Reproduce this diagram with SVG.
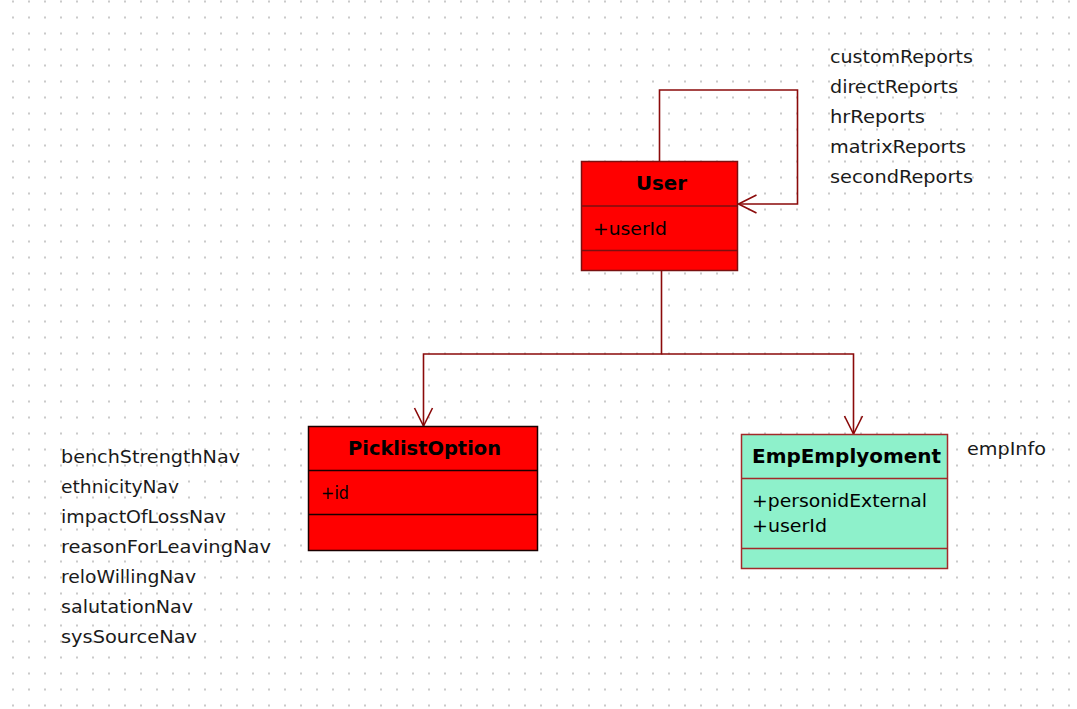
<svg xmlns="http://www.w3.org/2000/svg" width="1077" height="709" viewBox="0 0 1077 709">
<style>
.lbl{font-family:"DejaVu Sans Condensed","DejaVu Sans",sans-serif;font-size:18px;fill:#1a1a1a}
.ttl{font-family:"DejaVu Sans Condensed","DejaVu Sans",sans-serif;font-size:19px;font-weight:bold;fill:#000}
.att{font-family:"DejaVu Sans Condensed","DejaVu Sans",sans-serif;font-size:18px;fill:#000}
.con{fill:none;stroke:#8b0a0a;stroke-width:1.6}
</style>
<defs>
<pattern id="grid" x="0" y="0" width="16" height="16" patternUnits="userSpaceOnUse">
<rect x="12" y="0.5" width="2" height="2" fill="#cacaca"/>
</pattern>
<marker id="open" markerUnits="userSpaceOnUse" markerWidth="22" markerHeight="22" refX="18" refY="9" orient="auto" overflow="visible">
<path d="M0,0 L18,9 L0,18" fill="none" stroke="#8b0a0a" stroke-width="1.6"/>
</marker>
</defs>
<rect width="1077" height="709" fill="#ffffff"/>
<rect width="1077" height="709" fill="url(#grid)"/>

<g id="connectors">
<path class="con" d="M659.5,161 V90 H797.5 V204 H738.5" marker-end="url(#open)"/>
<path class="con" d="M661.5,271 V354 H423.5 V426" marker-end="url(#open)"/>
<path class="con" d="M661.5,354 H853.5 V434" marker-end="url(#open)"/>
</g>

<g id="User">
<rect x="581.5" y="161.5" width="156" height="109" fill="#ff0000" stroke="#7a1010" stroke-width="1.5"/>
<line x1="581.5" y1="206" x2="737.5" y2="206" stroke="#7a1010" stroke-width="1.5"/>
<line x1="581.5" y1="250.5" x2="737.5" y2="250.5" stroke="#7a1010" stroke-width="1.5"/>
<text class="ttl" x="661.5" y="190" text-anchor="middle" textLength="51" lengthAdjust="spacingAndGlyphs">User</text>
<text class="att" x="593" y="235" textLength="74" lengthAdjust="spacingAndGlyphs">+userId</text>
</g>

<g id="PicklistOption">
<rect x="308.5" y="426.5" width="229" height="124" fill="#ff0000" stroke="#1a0000" stroke-width="1.5"/>
<line x1="308.5" y1="470.5" x2="537.5" y2="470.5" stroke="#1a0000" stroke-width="1.5"/>
<line x1="308.5" y1="514.5" x2="537.5" y2="514.5" stroke="#1a0000" stroke-width="1.5"/>
<text class="ttl" x="424.5" y="455" text-anchor="middle" textLength="153" lengthAdjust="spacingAndGlyphs">PicklistOption</text>
<text class="att" x="321" y="499" textLength="28" lengthAdjust="spacingAndGlyphs">+id</text>
</g>

<g id="EmpEmplyoment">
<rect x="741.5" y="434.5" width="206" height="134" fill="#8ef1cb" stroke="#a32a2a" stroke-width="1.5"/>
<line x1="741.5" y1="478.5" x2="947.5" y2="478.5" stroke="#a32a2a" stroke-width="1.5"/>
<line x1="741.5" y1="548.5" x2="947.5" y2="548.5" stroke="#a32a2a" stroke-width="1.5"/>
<text class="ttl" x="752" y="463" textLength="189" lengthAdjust="spacingAndGlyphs">EmpEmplyoment</text>
<text class="att" x="752" y="507" textLength="175" lengthAdjust="spacingAndGlyphs">+personidExternal</text>
<text class="att" x="752" y="532" textLength="75" lengthAdjust="spacingAndGlyphs">+userId</text>
</g>

<g id="labels-user">
<text class="lbl" x="830" y="63" textLength="143" lengthAdjust="spacingAndGlyphs">customReports</text>
<text class="lbl" x="830" y="93" textLength="128" lengthAdjust="spacingAndGlyphs">directReports</text>
<text class="lbl" x="830" y="123" textLength="95" lengthAdjust="spacingAndGlyphs">hrReports</text>
<text class="lbl" x="830" y="153" textLength="136" lengthAdjust="spacingAndGlyphs">matrixReports</text>
<text class="lbl" x="830" y="183" textLength="143" lengthAdjust="spacingAndGlyphs">secondReports</text>
</g>

<g id="labels-picklist">
<text class="lbl" x="61" y="463" textLength="179" lengthAdjust="spacingAndGlyphs">benchStrengthNav</text>
<text class="lbl" x="61" y="493" textLength="118" lengthAdjust="spacingAndGlyphs">ethnicityNav</text>
<text class="lbl" x="61" y="523" textLength="165" lengthAdjust="spacingAndGlyphs">impactOfLossNav</text>
<text class="lbl" x="61" y="553" textLength="210" lengthAdjust="spacingAndGlyphs">reasonForLeavingNav</text>
<text class="lbl" x="61" y="583" textLength="135" lengthAdjust="spacingAndGlyphs">reloWillingNav</text>
<text class="lbl" x="61" y="613" textLength="132" lengthAdjust="spacingAndGlyphs">salutationNav</text>
<text class="lbl" x="61" y="643" textLength="136" lengthAdjust="spacingAndGlyphs">sysSourceNav</text>
</g>

<g id="labels-emp">
<text class="lbl" x="967" y="455" textLength="79" lengthAdjust="spacingAndGlyphs">empInfo</text>
</g>
</svg>
